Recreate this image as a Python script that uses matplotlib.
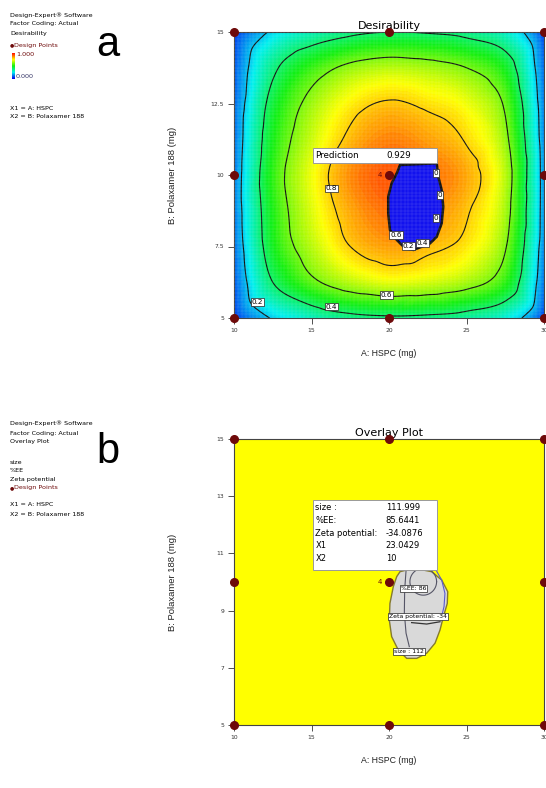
import matplotlib
matplotlib.use('Agg')
import matplotlib.pyplot as plt
import matplotlib.tri as mtri
from matplotlib.colors import LinearSegmentedColormap
from matplotlib.patches import Rectangle
import numpy as np

# --- values ---
hspc = [10, 12.5, 15, 17.5, 20, 22.5, 25, 27.5, 30]          # A: HSPC (mg)
polox = [5, 6.25, 7.5, 8.75, 10, 11.25, 12.5, 13.75, 15]      # B: Polaxamer 188 (mg)
desir = [
    [0.05, 0.21, 0.30, 0.36, 0.38, 0.37, 0.34, 0.27, 0.06],
    [0.09, 0.40, 0.57, 0.67, 0.72, 0.70, 0.65, 0.52, 0.12],
    [0.11, 0.48, 0.67, 0.80, 0.85, 0.82, 0.77, 0.61, 0.14],
    [0.12, 0.50, 0.71, 0.84, 0.90, 0.87, 0.81, 0.65, 0.15],
    [0.12, 0.52, 0.73, 0.87, 0.93, 0.90, 0.84, 0.67, 0.15],
    [0.11, 0.49, 0.69, 0.82, 0.88, 0.85, 0.79, 0.63, 0.14],
    [0.10, 0.45, 0.64, 0.76, 0.81, 0.78, 0.73, 0.58, 0.13],
    [0.09, 0.37, 0.53, 0.63, 0.67, 0.65, 0.60, 0.48, 0.11],
    [0.05, 0.22, 0.31, 0.37, 0.40, 0.39, 0.36, 0.29, 0.06],
]
contour_levels = [0.2, 0.4, 0.6, 0.8]

# zero-desirability pocket
hole_x = [20.71, 23.08, 23.18, 23.40, 23.50, 23.40, 23.08, 22.65, 22.11, 21.57,
          21.03, 20.50, 20.06, 19.95, 19.95, 20.17, 20.50]
hole_y = [10.35, 10.41, 9.94, 9.48, 8.89, 8.31, 7.84, 7.61, 7.49, 7.38,
          7.44, 7.73, 8.08, 8.66, 9.24, 9.71, 10.06]

# design points (A, B)
design_a = [10, 10, 10, 20, 20, 20, 30, 30, 30]
design_b = [5, 10, 15, 5, 10, 15, 5, 10, 15]
center_reps = "4"
prediction = 0.929

# overlay plot: grey sweet spot and its inner contour lines
spot_x = [20.71, 21.14, 22.00, 22.75, 23.40, 23.79, 23.76, 23.51, 23.29, 22.97,
          22.43, 21.79, 21.14, 20.60, 20.17, 20.02, 20.06, 20.28, 20.50]
spot_y = [10.36, 10.42, 10.44, 10.36, 10.07, 9.66, 9.25, 8.79, 8.32, 7.86,
          7.51, 7.33, 7.33, 7.62, 8.09, 8.67, 9.25, 9.84, 10.19]
size_line_x = [21.10, 21.01, 20.99, 21.10, 21.31]
size_line_y = [10.40, 9.72, 8.91, 8.21, 7.74]
zeta_line_x = [23.03, 23.40, 23.61, 23.55, 23.34]
zeta_line_y = [10.42, 10.07, 9.60, 9.14, 8.67]
zeta_curve_x = [21.46, 22.43, 23.29]
zeta_curve_y = [8.58, 8.53, 8.61]
ee_center = (22.21, 10.01)
ee_radius = (0.86, 0.47)

info_names = ["size :", "%EE:", "Zeta potential:", "X1", "X2"]
info_values = ["111.999", "85.6441", "-34.0876", "23.0429", "10"]

NARROW = ['Liberation Sans Narrow', 'DejaVu Sans']
REG = ['Liberation Sans', 'DejaVu Sans']
PT_RED = '#6e0a0a'

W, H = 546, 788
fig = plt.figure(figsize=(W / 100, H / 100), dpi=100)


def fx(px):
    return px / W


def fy(py):
    return 1 - py / H


cmap = LinearSegmentedColormap.from_list(
    'de', [(0.0, '#0000ee'), (0.25, '#00f0f0'), (0.5, '#10f010'),
           (0.75, '#ffff00'), (1.0, '#ff1000')])


def style_axes(ax, yticks):
    ax.set_xlim(10, 30)
    ax.set_ylim(5, 15)
    ax.set_xticks([10, 15, 20, 25, 30])
    ax.set_yticks(yticks)
    ax.set_yticklabels([('%g' % v) for v in yticks])
    ax.tick_params(direction='out', length=4, width=0.6, labelsize=4.3,
                   colors='#333333', pad=3)
    for lab in ax.get_xticklabels() + ax.get_yticklabels():
        lab.set_family(NARROW)
    for s in ax.spines.values():
        s.set_color('#444444')
        s.set_linewidth(0.8)
    ax.set_xlabel('A: HSPC (mg)', family=REG, fontsize=6.3, color='#222222')
    ax.set_ylabel('B: Polaxamer 188 (mg)', family=REG, fontsize=6.8, color='#222222')
    ax.xaxis.set_label_coords(0.5, -0.11)
    ax.yaxis.set_label_coords(-0.185, 0.5)


def design_points(ax):
    ax.plot(design_a, design_b, 'o', color=PT_RED, ms=5.5, clip_on=False, zorder=10)
    ax.text(19.55, 10, center_reps, ha='right', va='center', fontsize=5,
            color=PT_RED, family=NARROW, zorder=10)


def box_label(ax, xx, yy, txt, size=4.4):
    ax.text(xx, yy, txt, ha='center', va='center', fontsize=size, family=NARROW,
            zorder=6, bbox=dict(fc='white', ec='#222222', lw=0.5, pad=0.7))


# ---------------- (a) desirability ----------------
ax1 = fig.add_axes([fx(234), fy(318), (544 - 234) / W, (318 - 32) / H])
X, Y = np.meshgrid(hspc, polox)
z = np.array(desir).ravel()
tri = mtri.Triangulation(X.ravel(), Y.ravel())
refiner = mtri.UniformTriRefiner(tri)
tri_f, z_f = refiner.refine_field(z, mtri.CubicTriInterpolator(tri, z, kind='geom'),
                                  subdiv=4)
ax1.tricontourf(tri_f, z_f, levels=np.linspace(0, 1, 101), cmap=cmap, vmin=0, vmax=1)
ax1.tricontour(tri_f, z_f, levels=contour_levels, colors='#111111', linewidths=0.8)

# contour labels as boxed tags, placed where the reference puts them
for txt, xx, yy in [('0.2', 11.5, 5.57), ('0.4', 16.3, 5.40), ('0.6', 19.85, 5.80),
                    ('0.8', 16.3, 9.53)]:
    box_label(ax1, xx, yy, txt, 5.2)

ax1.fill(hole_x, hole_y, fc='#1212ee', ec='#111111', lw=1.8, zorder=3)
for txt, xx, yy in [('0', 23.03, 10.06), ('0', 23.29, 9.30), ('0', 23.03, 8.49),
                    ('0.6', 20.45, 7.90), ('0.2', 21.25, 7.52), ('0.4', 22.17, 7.63)]:
    box_label(ax1, xx, yy, txt, 5.2)

# faint cell texture of the Design-Expert surface
ax1.vlines(np.arange(10, 30, 0.25), 5, 15, colors='white', lw=0.3, alpha=0.22, zorder=4)
ax1.hlines(np.arange(5, 15, 0.125), 10, 30, colors='white', lw=0.3, alpha=0.22, zorder=4)

ax1.add_patch(Rectangle((15.08, 10.41), 8.02, 0.52, fc='white', ec='#999999',
                        lw=0.7, zorder=7))
ax1.text(15.25, 10.67, 'Prediction', va='center', fontsize=6.3, family=NARROW, zorder=8)
ax1.text(19.85, 10.67, '%.3f' % prediction, va='center', fontsize=6.3,
         family=NARROW, zorder=8)
design_points(ax1)
style_axes(ax1, [5, 7.5, 10, 12.5, 15])
ax1.set_title('Desirability', family=NARROW, fontsize=8, pad=2)

# ---------------- (b) overlay plot ----------------
ax2 = fig.add_axes([fx(234), fy(725), (544 - 234) / W, (725 - 439) / H])
ax2.set_facecolor('#ffff00')
ax2.fill(spot_x, spot_y, fc='#d9d9d9', ec='#857a2e', lw=1.0, zorder=2)
ax2.plot(size_line_x, size_line_y, color='#555566', lw=0.8, zorder=3)
ax2.plot(zeta_line_x, zeta_line_y, color='#5a5ad0', lw=0.8, zorder=3)
ax2.plot(zeta_curve_x, zeta_curve_y, color='#333333', lw=0.9, zorder=3)
tt = np.linspace(0, 2 * np.pi, 120)
ee_x = ee_center[0] + ee_radius[0] * np.cos(tt)
ee_y = ee_center[1] + ee_radius[1] * np.sin(tt)
keep = ee_y <= 10.42
ax2.plot(np.where(keep, ee_x, np.nan), ee_y, color='#555566', lw=0.8, zorder=3)
for txt, xx, yy in [('%EE: 86', 21.57, 9.78), ('Zeta potential: -34', 21.87, 8.80),
                    ('size : 112', 21.27, 7.56)]:
    box_label(ax2, xx, yy, txt)

ax2.add_patch(Rectangle((15.08, 10.42), 8.04, 2.45, fc='white', ec='#999999',
                        lw=0.7, zorder=7))
for i, (nm, val) in enumerate(zip(info_names, info_values)):
    yy = 12.6 - i * 0.445
    ax2.text(15.25, yy, nm, va='center', fontsize=6, family=NARROW, zorder=8)
    ax2.text(19.79, yy, val, va='center', fontsize=6, family=NARROW, zorder=8)
design_points(ax2)
style_axes(ax2, [5, 7, 9, 11, 13, 15])
ax2.set_title('Overlay Plot', family=NARROW, fontsize=8, pad=2)


# ---------------- side notes ----------------
def note(px, py, s, size=4.6, **kw):
    fig.text(fx(px), fy(py), s, family=NARROW, fontsize=size, va='center', **kw)


note(10, 15, 'Design-Expert® Software')
note(10, 24, 'Factor Coding: Actual')
note(10, 33, 'Desirability')
note(10, 45, '●', color=PT_RED, size=3.5)
note(14, 45, 'Design Points', color=PT_RED)
cax = fig.add_axes([fx(12), fy(79), 3 / W, 26 / H])
cax.imshow(np.linspace(1, 0, 50)[:, None], aspect='auto', cmap=cmap)
cax.axis('off')
note(16, 55, '1.000', color=PT_RED)
note(16, 77, '0.000', color='#333366')
note(10, 108, 'X1 = A: HSPC')
note(10, 117, 'X2 = B: Polaxamer 188')

note(10, 423, 'Design-Expert® Software')
note(10, 433, 'Factor Coding: Actual')
note(10, 442, 'Overlay Plot')
note(10, 463, 'size')
note(10, 471, '%EE')
note(10, 479, 'Zeta potential')
note(10, 488, '●', color=PT_RED, size=3.5)
note(14, 488, 'Design Points', color=PT_RED)
note(10, 505, 'X1 = A: HSPC')
note(10, 514, 'X2 = B: Polaxamer 188')

fig.text(fx(108), fy(45), 'a', fontsize=30, ha='center', va='center', family=REG)
fig.text(fx(108), fy(452), 'b', fontsize=30, ha='center', va='center', family=REG)

fig.savefig('out.png', dpi=100, facecolor='white')
